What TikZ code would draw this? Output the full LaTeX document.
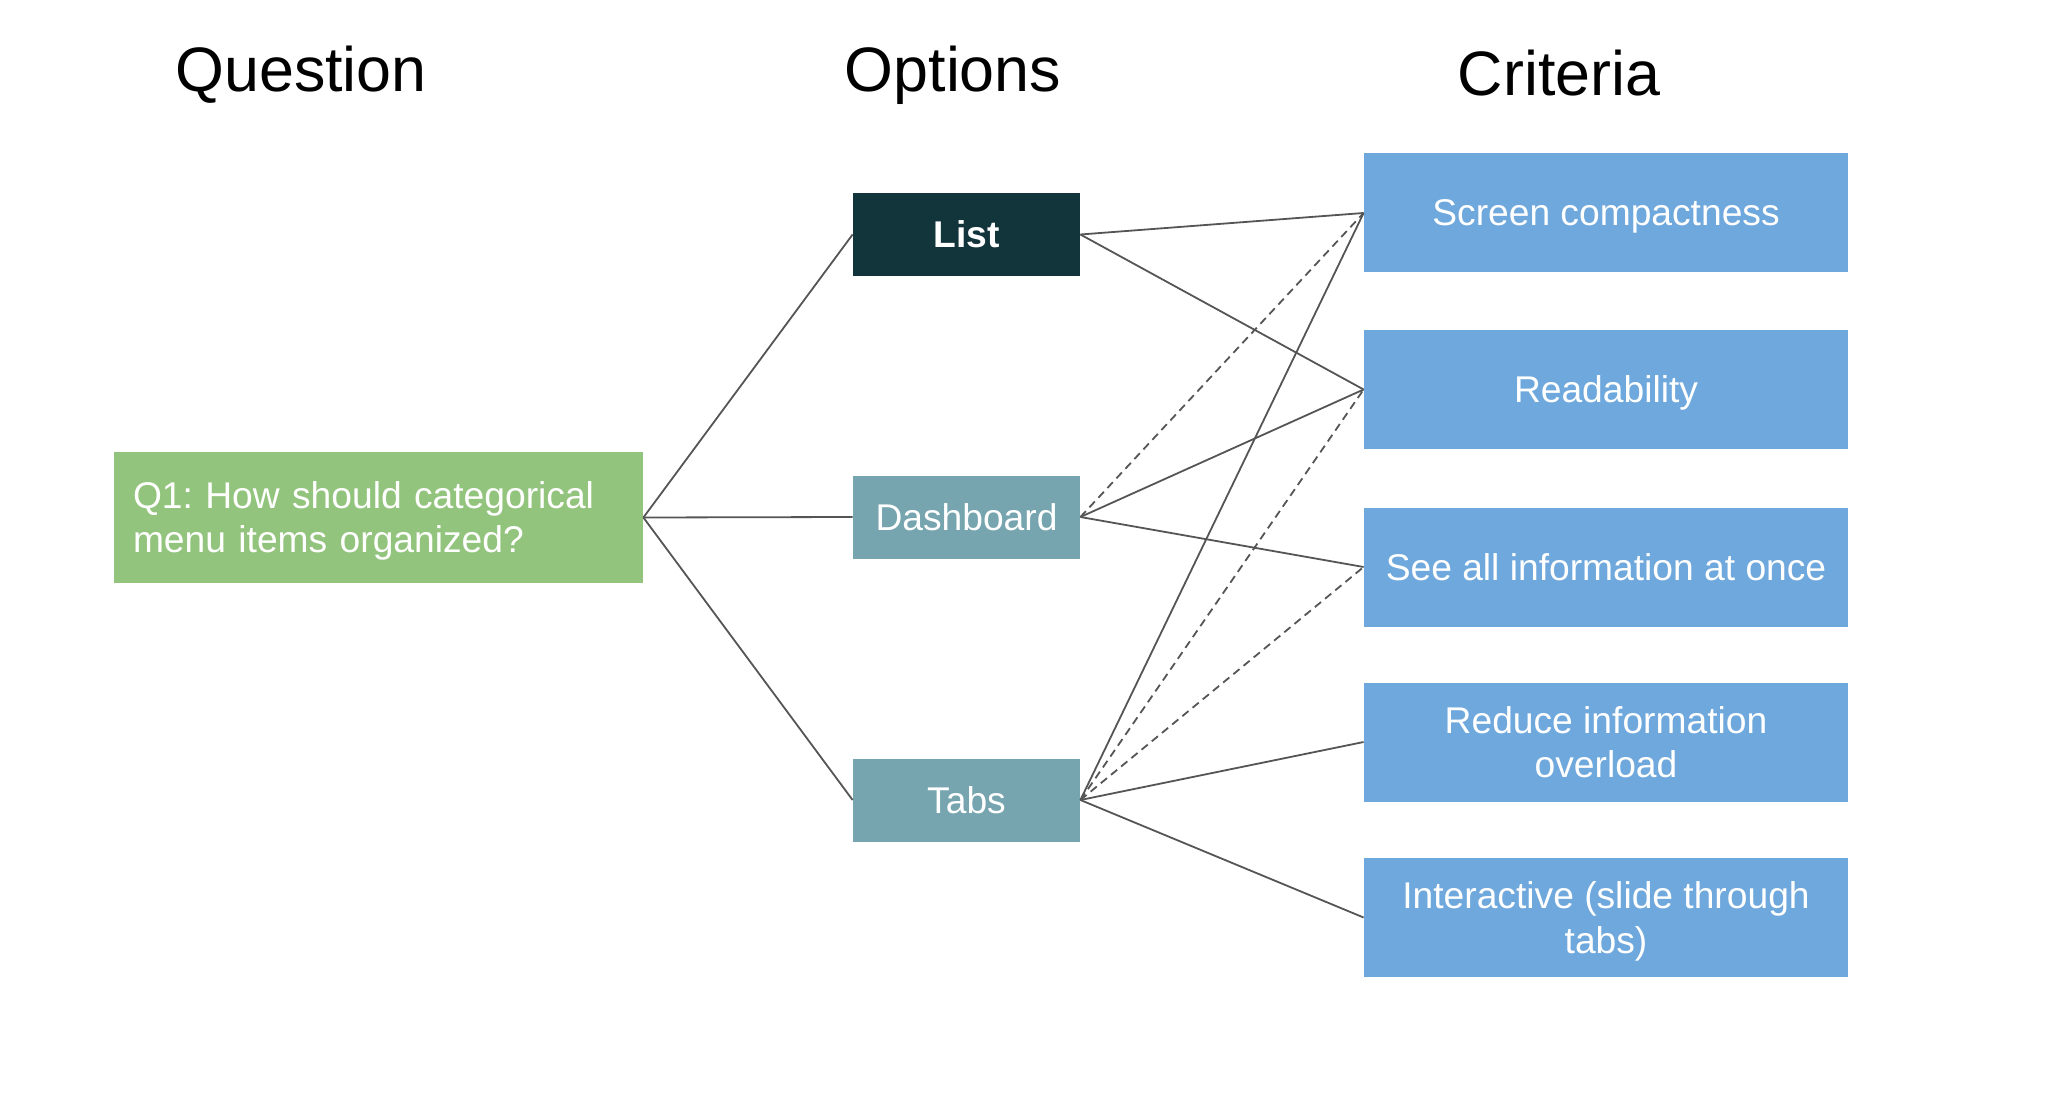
\documentclass[tikz,border=0pt]{standalone}
\usepackage{fontspec}
\setmainfont{Liberation Sans}
\frenchspacing
\definecolor{qgreen}{HTML}{93C47D}
\definecolor{listdark}{HTML}{12343B}
\definecolor{optteal}{HTML}{76A5AF}
\definecolor{critblue}{HTML}{6FA8DC}
\definecolor{linegray}{HTML}{555555}
\begin{document}
\begin{tikzpicture}[x=0.5pt,y=-0.5pt,
  title/.style={font=\fontsize{31.4}{38}\selectfont, text=black, inner sep=0pt, anchor=base},
  box/.style={draw=none, text=white, inner sep=0pt, text depth=0pt, font=\fontsize{18.6}{22.3}\selectfont, align=center},
  qbox/.style={box, fill=qgreen, minimum width=264.5pt, minimum height=65.5pt, text width=245.5pt, align=left, text depth=22pt},
  optbox/.style={box, fill=optteal, minimum width=113.5pt, minimum height=41.5pt},
  critbox/.style={box, fill=critblue, minimum width=242pt, minimum height=59.5pt},
  conn/.style={draw=linegray, line width=0.9pt},
  dconn/.style={conn, dash pattern=on 4pt off 2.6pt}
]
\useasboundingbox (0,0) rectangle (2048,1096);
\node[title] (tq) at (301,92) {Question};
\node[title] (to) at (953,92) {Options};
\node[title] (tc) at (1559,96) {Criteria};

\node[qbox, font=\fontsize{18.6}{22}\selectfont] (q) at (378.5,517.5) {Q1: How should categorical\\menu items organized?};

\node[optbox, fill=listdark, font=\fontsize{18.6}{22.3}\selectfont\bfseries] (list) at (966.5,234.5) {List};
\node[optbox] (dash) at (966.5,517) {Dashboard};
\node[optbox] (tabs) at (966.5,800) {Tabs};

\node[critbox] (c1) at (1606,213) {Screen compactness};
\node[critbox] (c2) at (1606,389.5) {Readability};
\node[critbox] (c3) at (1606,567) {See all information at once};
\node[critbox] (c4) at (1606,742) {Reduce information\\overload};
\node[critbox] (c5) at (1606,917.5) {Interactive (slide through\\tabs)};

\draw[conn] (q.east) -- (list.west);
\draw[conn] (q.east) -- (dash.west);
\draw[conn] (q.east) -- (tabs.west);

\draw[conn] (list.east) -- (c1.west);
\draw[conn] (list.east) -- (c2.west);

\draw[dconn] (dash.east) -- (c1.west);
\draw[conn] (dash.east) -- (c2.west);
\draw[conn] (dash.east) -- (c3.west);

\draw[conn] (tabs.east) -- (c1.west);
\draw[dconn] (tabs.east) -- (c2.west);
\draw[dconn] (tabs.east) -- (c3.west);
\draw[conn] (tabs.east) -- (c4.west);
\draw[conn] (tabs.east) -- (c5.west);
\end{tikzpicture}
\end{document}
